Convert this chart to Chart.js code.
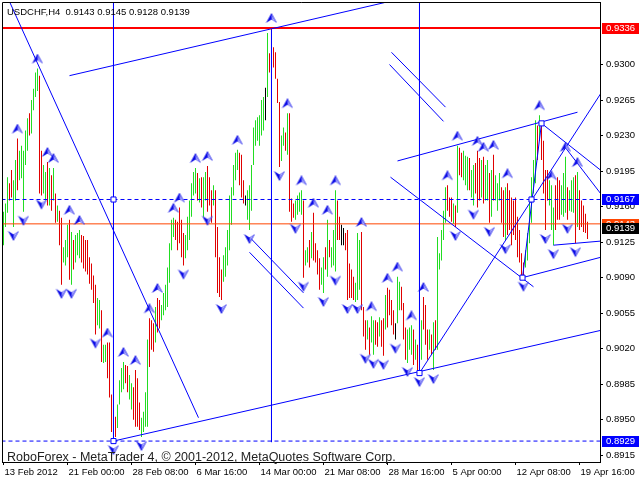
<!DOCTYPE html>
<html>
<head>
<meta charset="utf-8">
<title>USDCHF,H4</title>
<script src="https://cdn.jsdelivr.net/npm/chart.js@4.4.0/dist/chart.umd.min.js"></script>
<style>
    html, body { margin: 0; padding: 0; background: #fff; }
    canvas { display: block; }
</style>
</head>
<body>
<canvas id="mtChart" width="640" height="480"></canvas>
<script>
// Бары H4: максимумы и минимумы
const highs = [
    0.9155, 0.9163, 0.9189, 0.9183, 0.9196, 0.9186, 0.9206, 0.9227, 0.9215, 0.9220,
    0.9215, 0.9235, 0.9247, 0.9252, 0.9265, 0.9276, 0.9292, 0.9296, 0.9289, 0.9215,
    0.9201, 0.9194, 0.9204, 0.9198, 0.9191, 0.9198, 0.9173, 0.9161, 0.9156, 0.9149,
    0.9120, 0.9127, 0.9142, 0.9147, 0.9135, 0.9127, 0.9132, 0.9134, 0.9137, 0.9132,
    0.9131, 0.9127, 0.9127, 0.9110, 0.9104, 0.9092, 0.9083, 0.9070, 0.9068, 0.9058,
    0.9024, 0.9024, 0.9026, 0.9026, 0.8975, 0.8965, 0.8953, 0.8965, 0.8989, 0.9001,
    0.9007, 0.9004, 0.9003, 0.8994, 0.8986, 0.8982, 0.8999, 0.8991, 0.8967, 0.8952,
    0.8958, 0.8977, 0.9029, 0.9050, 0.9048, 0.9045, 0.9061, 0.9070, 0.9068, 0.9063,
    0.9075, 0.9083, 0.9100, 0.9124, 0.9147, 0.9149, 0.9147, 0.9145, 0.9159, 0.9147,
    0.9134, 0.9132, 0.9150, 0.9166, 0.9183, 0.9194, 0.9198, 0.9193, 0.9188, 0.9189,
    0.9189, 0.9194, 0.9200, 0.9189, 0.9176, 0.9181, 0.9176, 0.9140, 0.9110, 0.9098,
    0.9112, 0.9120, 0.9137, 0.9171, 0.9179, 0.9201, 0.9213, 0.9216, 0.9213, 0.9211,
    0.9186, 0.9171, 0.9176, 0.9181, 0.9201, 0.9238, 0.9245, 0.9248, 0.9250, 0.9265,
    0.9268, 0.9277, 0.9331, 0.9311, 0.9336, 0.9317, 0.9312, 0.9286, 0.9263, 0.9230,
    0.9238, 0.9233, 0.9252, 0.9252, 0.9168, 0.9163, 0.9166, 0.9171, 0.9174, 0.9176,
    0.9166, 0.9117, 0.9120, 0.9127, 0.9135, 0.9154, 0.9124, 0.9117, 0.9109, 0.9100,
    0.9110, 0.9120, 0.9147, 0.9127, 0.9120, 0.9137, 0.9176, 0.9166, 0.9150, 0.9142,
    0.9139, 0.9134, 0.9137, 0.9104, 0.9098, 0.9091, 0.9085, 0.9134, 0.9127, 0.9135,
    0.9061, 0.9048, 0.9048, 0.9041, 0.9052, 0.9048, 0.9048, 0.9046, 0.9051, 0.9048,
    0.9050, 0.9073, 0.9080, 0.9078, 0.9068, 0.9058, 0.9045, 0.9091, 0.9086, 0.9081,
    0.9065, 0.9041, 0.9039, 0.9041, 0.9043, 0.9039, 0.9029, 0.9024, 0.9019, 0.9048,
    0.9071, 0.9063, 0.9039, 0.9039, 0.9034, 0.9046, 0.9048, 0.9130, 0.9114, 0.9137,
    0.9156, 0.9179, 0.9181, 0.9169, 0.9169, 0.9163, 0.9161, 0.9220, 0.9218, 0.9213,
    0.9215, 0.9210, 0.9209, 0.9208, 0.9196, 0.9201, 0.9203, 0.9215, 0.9208, 0.9206,
    0.9209, 0.9201, 0.9206, 0.9193, 0.9196, 0.9211, 0.9191, 0.9183, 0.9193, 0.9179,
    0.9176, 0.9179, 0.9183, 0.9176, 0.9169, 0.9166, 0.9169, 0.9150, 0.9137, 0.9114,
    0.9105, 0.9117, 0.9134, 0.9166, 0.9189, 0.9206, 0.9245, 0.9240, 0.9250, 0.9243,
    0.9225, 0.9196, 0.9196, 0.9186, 0.9181, 0.9159, 0.9181, 0.9189, 0.9186, 0.9181,
    0.9193, 0.9209, 0.9179, 0.9176, 0.9186, 0.9189, 0.9191, 0.9194, 0.9176, 0.9166,
    0.9161, 0.9153, 0.9145
];
const lows = [
    0.9122, 0.9140, 0.9154, 0.9166, 0.9169, 0.9140, 0.9166, 0.9176, 0.9186, 0.9188,
    0.9155, 0.9201, 0.9215, 0.9230, 0.9232, 0.9255, 0.9268, 0.9274, 0.9173, 0.9171,
    0.9173, 0.9166, 0.9161, 0.9161, 0.9156, 0.9166, 0.9144, 0.9145, 0.9122, 0.9083,
    0.9105, 0.9102, 0.9110, 0.9088, 0.9083, 0.9098, 0.9105, 0.9112, 0.9109, 0.9105,
    0.9099, 0.9096, 0.9093, 0.9084, 0.9078, 0.9065, 0.9034, 0.9043, 0.9040, 0.9007,
    0.9006, 0.9007, 0.8991, 0.8972, 0.8938, 0.8929, 0.8933, 0.8942, 0.8965, 0.8977,
    0.8980, 0.8986, 0.8977, 0.8970, 0.8960, 0.8950, 0.8943, 0.8943, 0.8940, 0.8933,
    0.8938, 0.8943, 0.8943, 0.9002, 0.9019, 0.9017, 0.9026, 0.9036, 0.9040, 0.9048,
    0.9053, 0.9058, 0.9061, 0.9085, 0.9117, 0.9130, 0.9127, 0.9117, 0.9124, 0.9110,
    0.9102, 0.9109, 0.9117, 0.9127, 0.9150, 0.9171, 0.9173, 0.9166, 0.9164, 0.9159,
    0.9150, 0.9166, 0.9155, 0.9161, 0.9144, 0.9161, 0.9110, 0.9075, 0.9071, 0.9068,
    0.9086, 0.9091, 0.9102, 0.9117, 0.9142, 0.9171, 0.9186, 0.9196, 0.9181, 0.9169,
    0.9163, 0.9161, 0.9147, 0.9137, 0.9156, 0.9201, 0.9220, 0.9225, 0.9220, 0.9230,
    0.9235, 0.9245, 0.9268, 0.9292, 0.9299, 0.9297, 0.9286, 0.9262, 0.9199, 0.9205,
    0.9220, 0.9215, 0.9211, 0.9155, 0.9145, 0.9149, 0.9147, 0.9152, 0.9155, 0.9152,
    0.9090, 0.9102, 0.9105, 0.9100, 0.9109, 0.9107, 0.9105, 0.9093, 0.9078, 0.9083,
    0.9075, 0.9098, 0.9091, 0.9110, 0.9100, 0.9102, 0.9096, 0.9127, 0.9127, 0.9122,
    0.9122, 0.9117, 0.9068, 0.9070, 0.9070, 0.9068, 0.9066, 0.9068, 0.9078, 0.9058,
    0.9032, 0.9019, 0.9029, 0.9014, 0.9026, 0.9014, 0.9024, 0.9022, 0.9032, 0.9022,
    0.9013, 0.9039, 0.9041, 0.9053, 0.9043, 0.9034, 0.9029, 0.9045, 0.9058, 0.9058,
    0.9029, 0.9009, 0.9006, 0.9019, 0.9014, 0.9004, 0.9009, 0.8999, 0.8996, 0.9009,
    0.9039, 0.9024, 0.9009, 0.9019, 0.9014, 0.8999, 0.9019, 0.9019, 0.9098, 0.9107,
    0.9127, 0.9144, 0.9156, 0.9150, 0.9145, 0.9143, 0.9140, 0.9154, 0.9191, 0.9189,
    0.9186, 0.9181, 0.9176, 0.9176, 0.9169, 0.9161, 0.9173, 0.9159, 0.9166, 0.9169,
    0.9163, 0.9166, 0.9166, 0.9144, 0.9150, 0.9166, 0.9166, 0.9156, 0.9166, 0.9144,
    0.9130, 0.9127, 0.9132, 0.9137, 0.9122, 0.9132, 0.9127, 0.9110, 0.9105, 0.9091,
    0.9090, 0.9100, 0.9107, 0.9124, 0.9144, 0.9173, 0.9183, 0.9206, 0.9225, 0.9206,
    0.9173, 0.9137, 0.9166, 0.9161, 0.9137, 0.9122, 0.9137, 0.9147, 0.9147, 0.9152,
    0.9150, 0.9154, 0.9147, 0.9156, 0.9155, 0.9154, 0.9124, 0.9140, 0.9137, 0.9140,
    0.9135, 0.9134, 0.9128
];
// G - рост, R - падение, K - доджи
const barDir = (
    'GGGRRGGRGG' + 'GGGRGGGGRR' + 'GGRGRGRGRR' + 'GGGRGRGGGR' + 'RRRRRRRGGR' +
    'GGRRRRRGGG' + 'GRRGGRRRRG' + 'GGGRRRGRRG' + 'GGGGGGRRRR' + 'RGGGGGGRGR' +
    'GGRRRGRRRR' + 'GGGGGGGGRR' + 'RKGGGGGGGG' + 'GKGRRRRRRG' + 'GRGRRRGGGG' +
    'RGGRGRRRRG' + 'GRGRGGGRRK' + 'KRRRRRGGGR' + 'RRGRGGRRGR' + 'RGRRRRKGGR' +
    'RRGGGRGRRG' + 'RRRGRGRGGG' + 'GGRRRGRGRR' + 'GGGRGGRRRG' + 'RGGRGRGGGR' +
    'RGRRRRRRRR' + 'RGGGGGGRGR' + 'RRRGGGRRRG' + 'GGRGGGRGRR' + 'RRR'
).split('');

// Фракталы (номера баров)
const fractalUp = [7, 17, 22, 25, 33, 38, 52, 60, 66, 73, 77, 85, 88, 96, 102, 117, 134, 142, 149, 155,
    162, 166, 179, 184, 192, 197, 204, 210, 222, 227, 237, 240, 245, 252, 268, 274, 281, 287];
const fractalDown = [5, 10, 19, 29, 34, 46, 55, 69, 90, 102, 109, 123, 138, 146, 150, 160, 166, 172, 177,
    181, 185, 190, 196, 202, 208, 215, 226, 235, 243, 251, 260, 271, 275, 282, 286];

// Подписи осей
const xTickBars = [0, 32, 64, 96, 128, 160, 192, 224, 256, 288];
const xTickLabels = ['13 Feb 2012', '21 Feb 00:00', '28 Feb 08:00', '6 Mar 16:00', '14 Mar 00:00',
    '21 Mar 08:00', '28 Mar 16:00', '5 Apr 00:00', '12 Apr 08:00', '19 Apr 16:00'];
const yTickValues = [0.8915, 0.8950, 0.8985, 0.9020, 0.9055, 0.9090, 0.9125, 0.9160, 0.9195, 0.9230, 0.9265, 0.9300];

// Уровни: сопротивление, две пунктирные линии, Bid
const resistLevel = 0.9336;
const dashLevels = [0.9167, 0.8929];
const bidLevel = 0.9143;
const closePrice = 0.9139;

// Трендовые линии: [бар1, цена1, бар2, цена2]
const trendLines = [
    [3, 0.9362, 97.5, 0.8952],
    [33, 0.9289, 190.5, 0.9361],
    [55, 0.8929, 298.5, 0.9038],
    [123.5, 0.9129, 150, 0.9075],
    [123, 0.9115, 150, 0.9060],
    [194, 0.9312, 221, 0.9258],
    [193, 0.9300, 220, 0.9244],
    [197, 0.9205, 287, 0.9253],
    [193.5, 0.9189, 265, 0.9081],
    [208, 0.8996, 298.5, 0.9271],
    [259.5, 0.9090, 269, 0.9242],
    [269, 0.9242, 298.5, 0.9196],
    [281, 0.9218, 298.5, 0.9173],
    [259.5, 0.9090, 298.5, 0.9110],
    [275, 0.9122, 298.5, 0.9126]
];
// Вертикальные линии: [бар, цена верх, цена низ]
const vLines = [[55, 0.9362, 0.8929], [134, 0.9334, 0.8928], [208, 0.9362, 0.8996]];
// Опорные точки (квадратики)
const anchorBars = [55, 55, 208, 259.5, 264, 269];
const anchorPrices = [0.9167, 0.8929, 0.8996, 0.9090, 0.9167, 0.9242];

const headerText = 'USDCHF,H4  0.9143 0.9145 0.9128 0.9139';
const copyrightText = 'RoboForex - MetaTrader 4, \u00a9 2001-2012, MetaQuotes Software Corp.';

const FONT = '"Liberation Sans", Arial, sans-serif';
const BLUE = '#0000ff';
const dirColors = { G: '#22dd22', R: '#e00000', K: '#000000' };

// Стрелка фрактала
function makeArrow(up) {
    const c = document.createElement('canvas');
    c.width = 12;
    c.height = 30;
    const g = c.getContext('2d');
    const t = up ? 0 : 19;
    g.beginPath();
    if (up) {
        g.moveTo(6, t); g.lineTo(11.5, t + 10); g.lineTo(6, t + 6.5); g.lineTo(0.5, t + 10);
    } else {
        g.moveTo(6, t + 10); g.lineTo(11.5, t); g.lineTo(6, t + 3.5); g.lineTo(0.5, t);
    }
    g.closePath();
    g.fillStyle = '#0a0ae6';
    g.fill();
    g.beginPath();
    if (up) {
        g.moveTo(6, t + 1.5); g.lineTo(10.5, t + 9.5); g.lineTo(6.5, t + 6.5);
    } else {
        g.moveTo(6, t + 8.5); g.lineTo(10.5, t + 0.5); g.lineTo(6.5, t + 3.5);
    }
    g.closePath();
    g.fillStyle = '#b4b4ff';
    g.fill();
    return c;
}

function lineDataset(points, color, width, dash, order) {
    return {
        type: 'line',
        data: points,
        borderColor: color,
        borderWidth: width,
        borderDash: dash || [],
        pointRadius: 0,
        tension: 0,
        fill: false,
        order: order
    };
}

// Рамка, надписи и ценовые метки
const overlayPlugin = {
    id: 'mtOverlay',
    beforeDraw(chart) {
        const ctx = chart.ctx;
        ctx.save();
        ctx.fillStyle = '#fff';
        ctx.fillRect(0, 0, chart.width, chart.height);
        ctx.restore();
    },
    afterDraw(chart) {
        const { ctx, chartArea: a } = chart;
        const y = chart.scales.y;
        ctx.save();
        ctx.strokeStyle = '#000';
        ctx.lineWidth = 1;
        ctx.beginPath();
        ctx.moveTo(a.left + 0.5, a.bottom);
        ctx.lineTo(a.left + 0.5, a.top + 0.5);
        ctx.lineTo(a.right, a.top + 0.5);
        ctx.stroke();

        ctx.fillStyle = '#000';
        ctx.textBaseline = 'alphabetic';
        ctx.font = '9.5px ' + FONT;
        ctx.fillText(headerText, 7, 15);
        ctx.fillStyle = '#222';
        ctx.font = '12.5px ' + FONT;
        ctx.fillText(copyrightText, 7, 461);

        const marks = [
            [resistLevel, '#ff0000'],
            [dashLevels[0], BLUE],
            [bidLevel, '#ff4500'],
            [closePrice, '#000000'],
            [dashLevels[1], BLUE]
        ];
        ctx.font = '9.5px ' + FONT;
        ctx.textBaseline = 'middle';
        marks.forEach(([p, col]) => {
            const py = Math.round(y.getPixelForValue(p));
            ctx.fillStyle = col;
            ctx.fillRect(602, py - 5, 37, 11);
            ctx.fillStyle = '#fff';
            ctx.fillText(p.toFixed(4), 606, py + 0.5);
        });
        ctx.restore();
    }
};

function createChart() {
    const ctx = document.getElementById('mtChart').getContext('2d');
    const datasets = [];

    // Бары
    datasets.push({
        type: 'bar',
        data: highs.map((h, i) => ({ x: i, y: [lows[i], h] })),
        backgroundColor: barDir.map(d => dirColors[d]),
        borderWidth: 0,
        barThickness: 1,
        inflateAmount: 0,
        order: 10
    });

    // Горизонтальные уровни
    const xs = [-1, 300];
    datasets.push(lineDataset(xs.map(x => ({ x, y: resistLevel })), '#ff0000', 2, null, 4));
    datasets.push(lineDataset(xs.map(x => ({ x, y: bidLevel })), '#ff4500', 1, null, 4));
    dashLevels.forEach(lv => {
        datasets.push(lineDataset(xs.map(x => ({ x, y: lv })), BLUE, 1, [4, 3], 4));
    });

    // Трендовые и вертикальные линии
    trendLines.forEach(t => {
        datasets.push(lineDataset([{ x: t[0], y: t[1] }, { x: t[2], y: t[3] }], BLUE, 1, null, 3));
    });
    vLines.forEach(v => {
        datasets.push(lineDataset([{ x: v[0], y: v[1] }, { x: v[0], y: v[2] }], BLUE, 1, null, 3));
    });

    // Фракталы
    datasets.push({
        type: 'scatter',
        data: fractalUp.map(i => ({ x: i, y: highs[i] })),
        pointStyle: makeArrow(true),
        pointRadius: 5,
        order: 1
    });
    datasets.push({
        type: 'scatter',
        data: fractalDown.map(i => ({ x: i, y: lows[i] })),
        pointStyle: makeArrow(false),
        pointRadius: 5,
        order: 1
    });

    // Квадратики опорных точек
    datasets.push({
        type: 'scatter',
        data: anchorBars.map((b, k) => ({ x: b, y: anchorPrices[k] })),
        pointStyle: 'rect',
        pointRadius: 3.6,
        backgroundColor: '#fff',
        borderColor: BLUE,
        borderWidth: 1,
        order: 0
    });

    return new Chart(ctx, {
        type: 'bar',
        data: { datasets: datasets },
        plugins: [overlayPlugin],
        options: {
            responsive: false,
            animation: false,
            events: [],
            layout: { autoPadding: false, padding: { left: 2, top: 2, right: 0, bottom: 0 } },
            plugins: {
                legend: { display: false },
                tooltip: { enabled: false }
            },
            scales: {
                x: {
                    type: 'linear',
                    offset: false,
                    bounds: 'data',
                    min: -0.7499,
                    max: 298.2501,
                    afterBuildTicks: scale => {
                        scale.ticks = xTickBars.map(v => ({ value: v }));
                    },
                    afterFit: scale => {
                        scale.height = 18;
                        scale.paddingLeft = 0;
                        scale.paddingRight = 0;
                    },
                    ticks: {
                        autoSkip: false,
                        maxRotation: 0,
                        minRotation: 0,
                        align: 'start',
                        labelOffset: 1,
                        padding: 2,
                        color: '#000',
                        font: { family: FONT, size: 9.5 },
                        callback: value => xTickLabels[xTickBars.indexOf(value)]
                    },
                    grid: { drawOnChartArea: false, drawTicks: true, tickLength: 3, color: '#000', offset: false },
                    border: { display: true, color: '#000' }
                },
                y: {
                    type: 'linear',
                    position: 'right',
                    bounds: 'data',
                    beginAtZero: false,
                    min: 0.890838,
                    max: 0.936158,
                    afterBuildTicks: scale => {
                        scale.ticks = yTickValues.map(v => ({ value: v }));
                    },
                    afterFit: scale => {
                        scale.width = 40;
                        scale.paddingTop = 0;
                        scale.paddingBottom = 0;
                    },
                    ticks: {
                        padding: 3,
                        color: '#000',
                        font: { family: FONT, size: 9.5 },
                        callback: value => value.toFixed(4)
                    },
                    grid: { drawOnChartArea: false, drawTicks: true, tickLength: 3, color: '#000' },
                    border: { display: true, color: '#000' }
                }
            }
        }
    });
}

window.addEventListener('DOMContentLoaded', () => {
    if (typeof Chart !== 'undefined') {
        createChart();
    }
});
</script>
</body>
</html>
